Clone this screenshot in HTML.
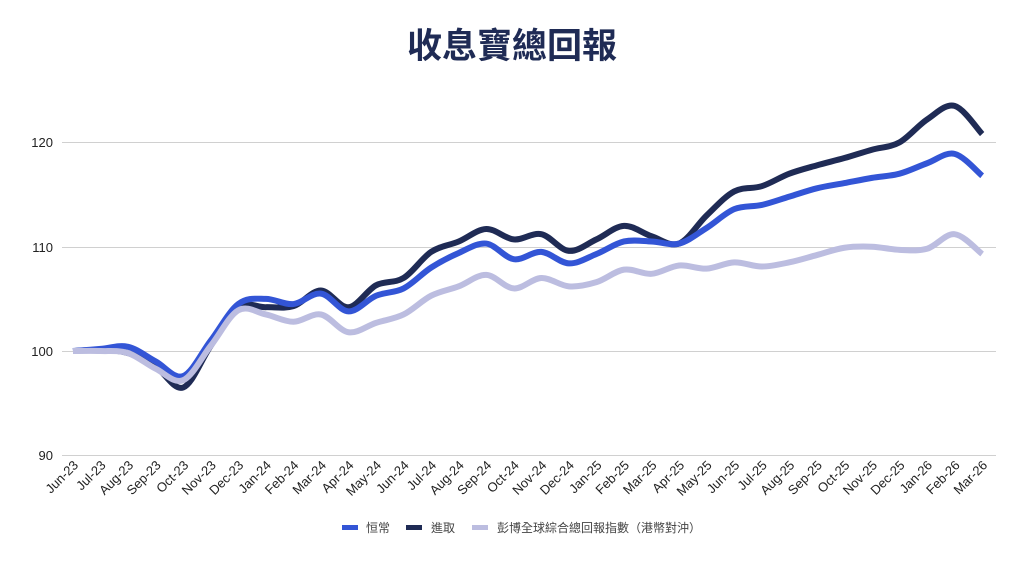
<!DOCTYPE html>
<html><head><meta charset="utf-8"><style>
body{margin:0;background:#fff;}
svg text{font-family:"Liberation Sans","Noto Sans CJK TC",sans-serif;}
</style></head><body>
<svg id="s" width="1024" height="564" viewBox="0 0 1024 564" xmlns="http://www.w3.org/2000/svg">
<text x="512" y="58" text-anchor="middle" font-size="35" font-weight="bold" fill="#1f2b55" style="font-family:'Noto Sans CJK TC',sans-serif">收息寶總回報</text>
<g stroke="#d0d0d0" stroke-width="1">
<line x1="62" x2="996" y1="142.5" y2="142.5"/><line x1="62" x2="996" y1="247.5" y2="247.5"/><line x1="62" x2="996" y1="351.5" y2="351.5"/><line x1="62" x2="996" y1="455.5" y2="455.5"/>
</g>
<g font-size="13" fill="#222" text-anchor="end">
<text x="53" y="147">120</text><text x="53" y="252">110</text><text x="53" y="356">100</text><text x="53" y="460">90</text>
</g>
<g id="lines"></g>
<g id="xl" font-size="13" fill="#222" text-anchor="end"></g>
<g font-size="12" fill="#444" style="font-family:'Noto Serif CJK SC',serif">
<rect x="342" y="525" width="16" height="5" fill="#3355d6"/><text x="366" y="532">恒常</text>
<rect x="406" y="525" width="16" height="5" fill="#1f2b55"/><text x="431" y="532">進取</text>
<rect x="472" y="525" width="16" height="5" fill="#bcbde0"/><text x="497" y="532">彭博全球綜合總回報指數（港幣對沖）</text>
</g>
</svg>
<script>
var months=[];var ms=["Jan","Feb","Mar","Apr","May","Jun","Jul","Aug","Sep","Oct","Nov","Dec"];
var m=5,y=23;for(var i=0;i<34;i++){months.push(ms[m]+"-"+y);m++;if(m==12){m=0;y++;}}
var blue=[100,100.2,100.4,99,97.6,101,104.5,105,104.5,105.5,103.8,105.3,106,108,109.4,110.3,108.8,109.5,108.4,109.3,110.5,110.5,110.3,111.8,113.6,114,114.8,115.6,116.1,116.6,117,118,118.9,116.8];
var dark=[100,100.1,99.8,98.5,96.5,100.5,104.2,104.2,104.3,105.8,104.2,106.3,107,109.5,110.5,111.7,110.7,111.2,109.6,110.7,112,111,110.3,113,115.3,115.8,117,117.8,118.5,119.3,120,122.2,123.5,120.8];
var light=[100,100,99.8,98.3,97.2,100.5,103.9,103.5,102.8,103.5,101.8,102.7,103.5,105.3,106.2,107.3,106,107,106.2,106.6,107.8,107.4,108.2,107.9,108.5,108.1,108.5,109.2,109.9,110,109.7,109.8,111.2,109.3];
function X(i){return 73+i*27.55;}function Y(v){return 351-(v-100)*10.43;}
function path(d){var p=[];for(var i=0;i<d.length;i++)p.push([X(i),Y(d[i])]);
var s="M"+p[0][0]+","+p[0][1];for(var i=0;i<p.length-1;i++){var a=p[Math.max(0,i-1)],b=p[i],c=p[i+1],e=p[Math.min(p.length-1,i+2)];
s+=" C"+(b[0]+(c[0]-a[0])/6)+","+(b[1]+(c[1]-a[1])/6)+" "+(c[0]-(e[0]-b[0])/6)+","+(c[1]-(e[1]-b[1])/6)+" "+c[0]+","+c[1];}return s;}
var g=document.getElementById("lines"),NS="http://www.w3.org/2000/svg";
[[dark,"#1f2b55"],[blue,"#3355d6"],[light,"#bcbde0"]].forEach(function(a){var e=document.createElementNS(NS,"path");e.setAttribute("d",path(a[0]));e.setAttribute("fill","none");e.setAttribute("stroke",a[1]);e.setAttribute("stroke-width","6");e.setAttribute("stroke-linejoin","round");g.appendChild(e);});
var xl=document.getElementById("xl");months.forEach(function(t,i){var e=document.createElementNS(NS,"text");var x=X(i)+6,yy=466;e.setAttribute("x",x);e.setAttribute("y",yy);e.setAttribute("transform","rotate(-45 "+x+" "+yy+")");e.textContent=t;xl.appendChild(e);});
</script>
</body></html>
